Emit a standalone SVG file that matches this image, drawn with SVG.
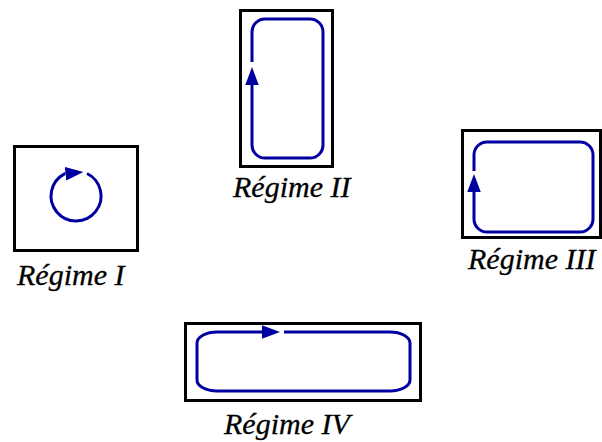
<svg xmlns="http://www.w3.org/2000/svg" width="602" height="442" viewBox="0 0 602 442">
  <style>
    .frame { fill: none; stroke: #000; stroke-width: 3; }
    .flow { fill: none; stroke: #0000a0; stroke-width: 3; stroke-linejoin: round; marker-end: url(#head); }
    .label { font-family: 'Liberation Serif', 'Times New Roman', Times, serif; font-style: italic; font-size: 30px; fill: #000; stroke: #000; stroke-width: 0.3; }
  </style>
  <defs>
    <marker id="head" markerUnits="userSpaceOnUse" markerWidth="18" markerHeight="14" viewBox="0 0 16 12" refX="0" refY="6" orient="auto">
      <path d="M0,0 L16,6 L0,12 Z" fill="#0000a0"/>
    </marker>
  </defs>
  <rect width="602" height="442" fill="#fff"/>

  <g id="regime-1">
    <rect class="frame" x="14.5" y="146.5" width="123" height="104"/>
    <path class="flow" d="M87,173.5 A25,25 0 1 1 64.5,173.8 l1,-0.1"/>
    <text class="label" x="17" y="285">Régime I</text>
  </g>

  <g id="regime-2">
    <rect class="frame" x="240.5" y="10.5" width="92" height="156"/>
    <path class="flow" d="M252,62 V32 A13,13 0 0 1 265,19 H310 A13,13 0 0 1 323,32 V145 A13,13 0 0 1 310,158 H265 A13,13 0 0 1 252,145 V85"/>
    <text class="label" x="233" y="197">Régime II</text>
  </g>

  <g id="regime-3">
    <rect class="frame" x="462.5" y="130.5" width="138" height="107"/>
    <path class="flow" d="M474,171 V155 A13,13 0 0 1 487,142 H580 A13,13 0 0 1 593,155 V219 A13,13 0 0 1 580,232 H487 A13,13 0 0 1 474,219 V192"/>
    <text class="label" x="468" y="269">Régime III</text>
  </g>

  <g id="regime-4">
    <rect class="frame" x="185.5" y="323.5" width="235" height="77"/>
    <path class="flow" d="M284,332 H390 A20,11 0 0 1 410,343 V380 A20,11 0 0 1 390,391 H217 A20,11 0 0 1 197,380 V343 A20,11 0 0 1 217,332 H262"/>
    <text class="label" x="224" y="434">Régime IV</text>
  </g>
</svg>
